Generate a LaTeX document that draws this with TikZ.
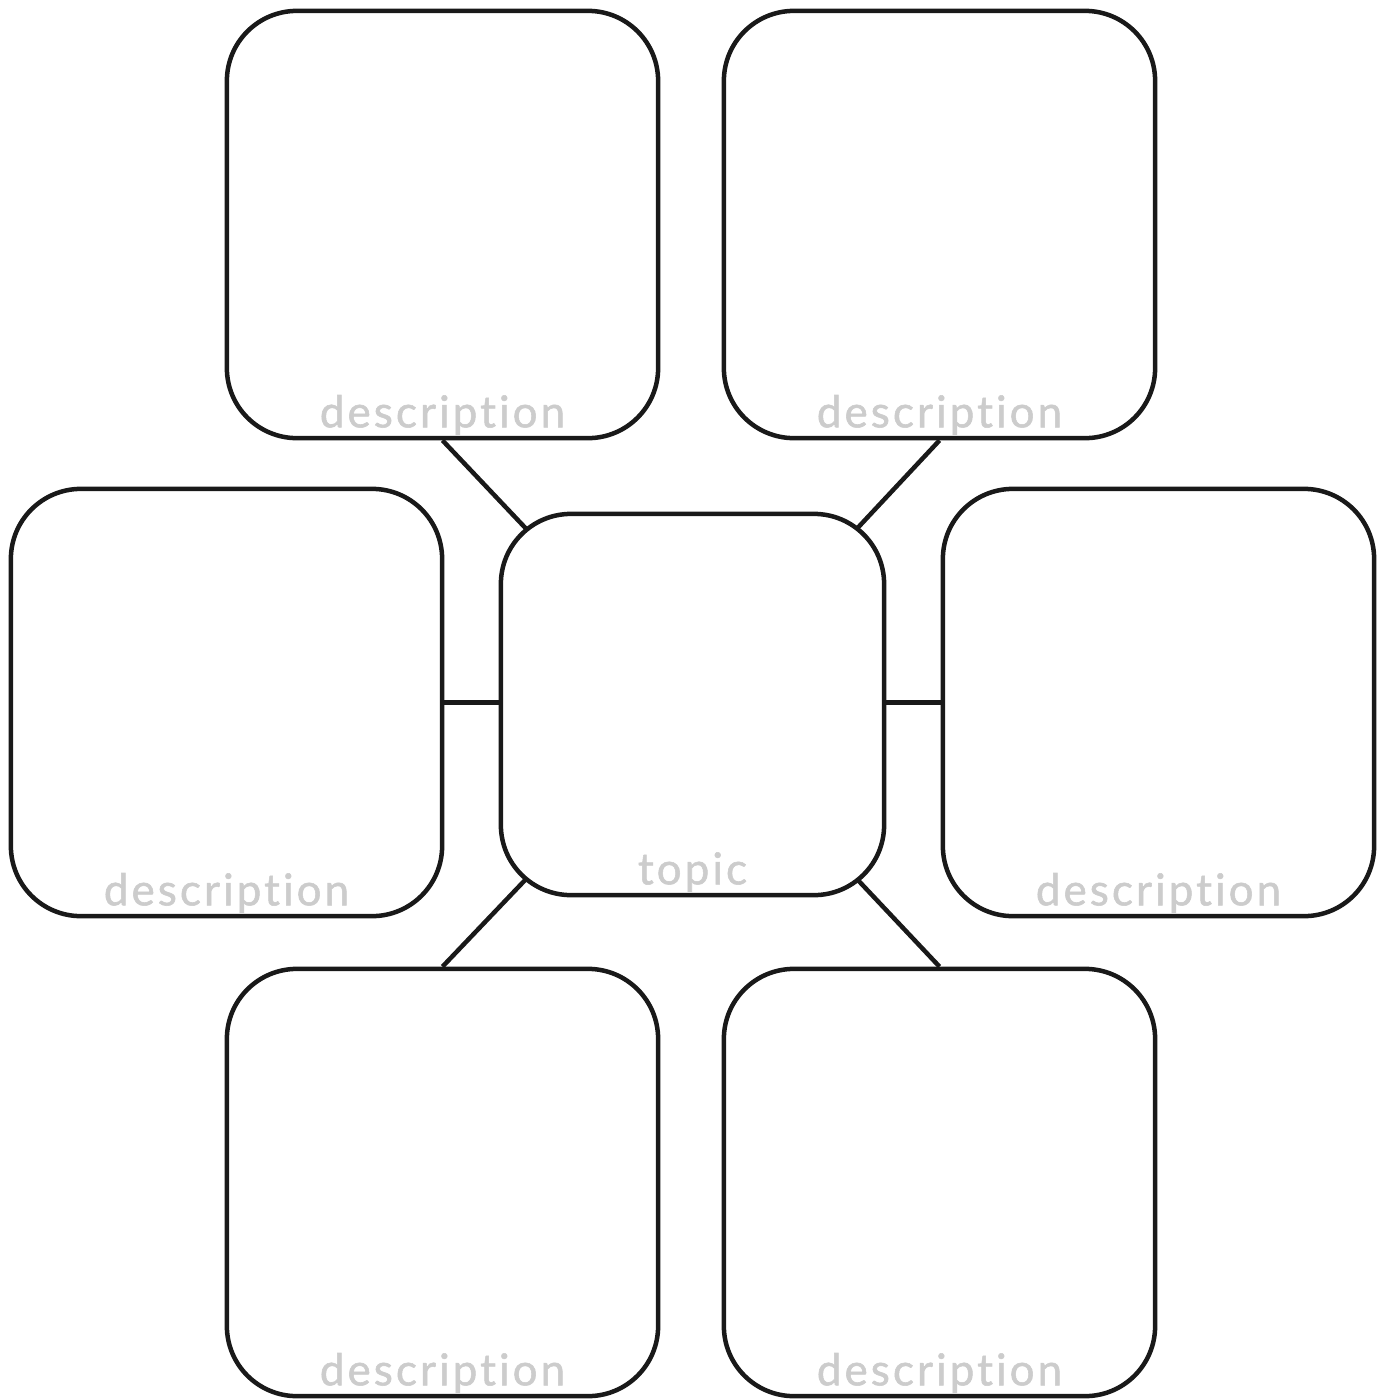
\documentclass[tikz,border=0pt]{standalone}
\usepackage{fontspec}
\newfontfamily\labelfont[LetterSpace=7, Ligatures=NoCommon, FakeBold=1.2]{Lato}
\usetikzlibrary{backgrounds}
\begin{document}
\begin{tikzpicture}[x=0.01cm, y=-0.01cm,
    box/.style={draw=black!90, line width=0.045cm, fill=white, rounded corners=0.7cm,
        minimum width=4.31cm, minimum height=4.27cm, inner sep=0pt},
    topicbox/.style={box, minimum width=3.83cm, minimum height=3.81cm},
    tag/.style={anchor=base, yshift=0.13cm, text=black!20, font=\labelfont\fontsize{12.5}{14}\selectfont},
    link/.style={line width=0.045cm, black!90}]
    % Rahmen
    \useasboundingbox (0, 0) rectangle (1380, 1399);
    % Thema in der Mitte
    \node[topicbox] (topic) at (692.5, 704.5) {};
    \node[tag] at (topic.south) {topic};
    % Beschreibungen rundherum
    \node[box] (d1) at (442.5, 224.5) {};
    \node[box] (d2) at (939.5, 224.5) {};
    \node[box] (d3) at (226.5, 702.5) {};
    \node[box] (d4) at (1158.5, 702.5) {};
    \node[box] (d5) at (442.5, 1182.5) {};
    \node[box] (d6) at (939.5, 1182.5) {};
    \foreach \d in {d1, d2, d3, d4, d5, d6}
        \node[tag] at (\d.south) {description};
    % Verbindungslinien
    \begin{scope}[on background layer]
        \draw[link] (d1.south) -- (topic.center);
        \draw[link] (d2.south) -- (topic.center);
        \draw[link] (d3.east) -- (d3.east -| topic.west);
        \draw[link] (d4.west) -- (d4.west -| topic.east);
        \draw[link] (d5.north) -- (topic.center);
        \draw[link] (d6.north) -- (topic.center);
    \end{scope}
\end{tikzpicture}
\end{document}
